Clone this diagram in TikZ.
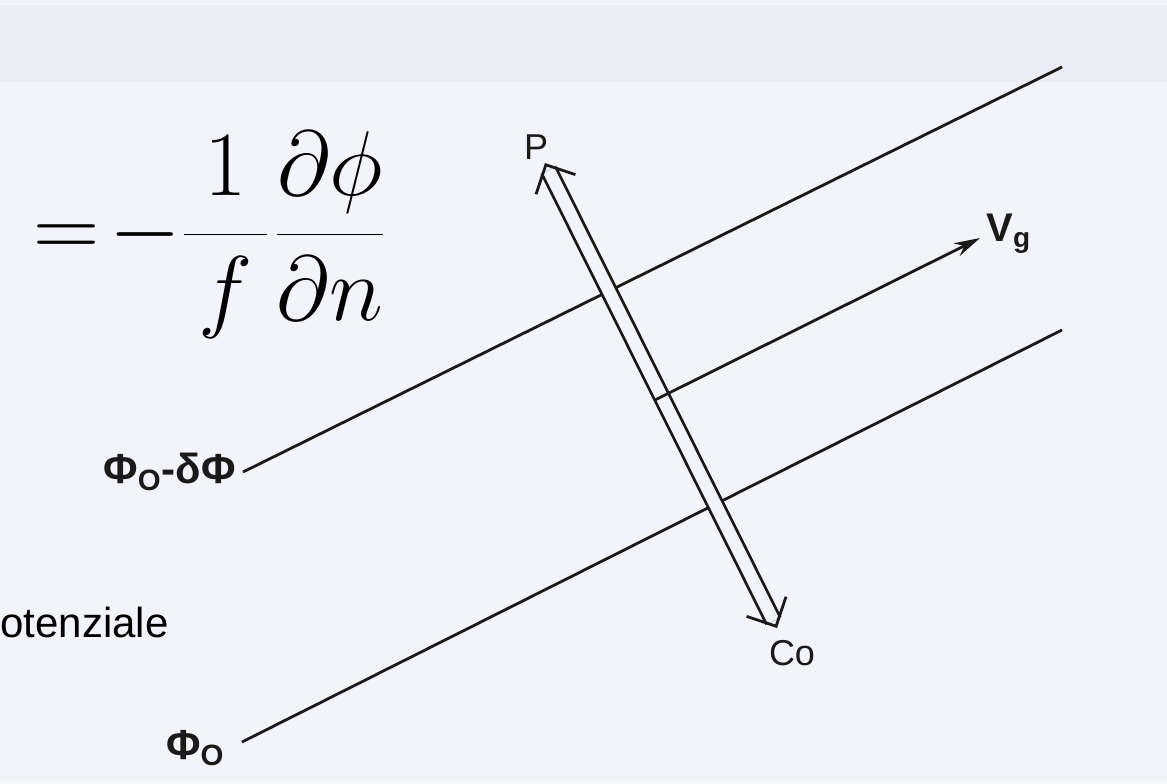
\RequirePackage{fix-cm}
\documentclass[tikz,border=0pt]{standalone}
\usepackage{fontspec}
\setmainfont{Liberation Serif}
\setsansfont{Liberation Sans}
\usetikzlibrary{arrows.meta,positioning,calc}
\definecolor{ink}  {HTML}{1A1A1A}
\definecolor{paper}{HTML}{F3F4FB}
\definecolor{band} {HTML}{ECECF6}
\tikzset{
  >=Stealth,
  % --- lines
  iso/.style   = {line width=1.4pt, draw=ink},
  vflow/.style = {iso, -{Stealth[length=13pt,width=7pt]}},
  dbl/.style   = {draw=ink, line width=1.4pt, double=paper, double distance=6.2pt,
                  shorten <=4pt, shorten >=4pt},
  barb/.style  = {iso, -{Straight Barb[length=11pt,width=22pt]}},
  % --- texts
  lbl/.style   = {font=\sffamily\fontsize{18}{20}\selectfont, inner sep=0pt, text=ink},
  phil/.style  = {lbl, font=\sffamily\bfseries\fontsize{21}{24}\selectfont},
  vlbl/.style  = {lbl, font=\sffamily\bfseries\fontsize{20}{22}\selectfont},
  note/.style  = {font=\sffamily\fontsize{21}{24}\selectfont, inner sep=0pt, text=black},
}

\begin{document}
\begin{tikzpicture}[x=0.5pt,y=-0.5pt]
  \useasboundingbox (0,0) rectangle (1167,783);
  \fill[paper] (0,0) rectangle (1167,783);
  \fill[band] (0,5) rectangle (1167,82);
  % formula
  \node[inner sep=0pt, anchor=west] (eq) at (33,235)
    {\fontsize{46}{54}\selectfont$\displaystyle =\mkern-3mu-\frac{\mkern4mu 1\mkern4mu}{f}\mkern1mu\frac{\partial\phi}{\partial n}$};
  \node[note, anchor=base west] (pot) at (0,637) {otenziale};
  % isobars
  \node[phil, anchor=east] (phiA) at (236,472) {Φ\textsubscript{O}-δΦ};
  \node[phil, anchor=east] (phiB) at (225,748) {Φ\textsubscript{O}};
  \coordinate (a0) at (243,472);
  \coordinate (a1) at (1062,67);
  \coordinate (b0) at (242,742);
  \coordinate (b1) at (1062,330);
  \draw[iso] (a0) -- (a1);
  \draw[iso] (b0) -- (b1);
  % pressure / Coriolis
  \coordinate (ptip) at (545,163);
  \coordinate (ctip) at (777,628);
  \draw[dbl] (ptip) -- (ctip);
  \draw[barb] ($(ptip)!1pt!(ctip)$) -- (ptip);
  \draw[barb] ($(ctip)!1pt!(ptip)$) -- (ctip);
  \node[lbl] (p) at (536,147) {P};
  \node[lbl] (co) at (792,653) {Co};
  % geostrophic wind
  \coordinate (v0) at (655,400);
  \coordinate (v1) at (980,238);
  \draw[vflow] (v0) -- (v1);
  \node[vlbl, anchor=west] (vg) at (986,234) {V\textsubscript{g}};
\end{tikzpicture}
\end{document}
